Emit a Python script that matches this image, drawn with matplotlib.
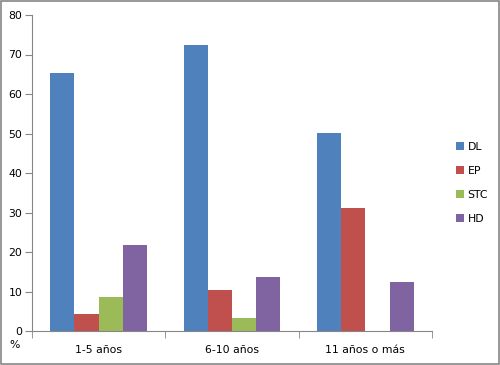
import matplotlib
matplotlib.use("Agg")
import matplotlib.pyplot as plt
import numpy as np

categories = ["1-5 años", "6-10 años", "11 años o más"]
series = ["DL", "EP", "STC", "HD"]
values = {
    "DL": [65.3, 72.4, 50.1],
    "EP": [4.3, 10.4, 31.1],
    "STC": [8.7, 3.3, 0.0],
    "HD": [21.8, 13.7, 12.4],
}
colors = ["#4F81BD", "#C0504D", "#9BBB59", "#8064A2"]
yticks = [0, 10, 20, 30, 40, 50, 60, 70, 80]

fig = plt.figure(figsize=(5, 3.65), dpi=100)
ax = fig.add_axes([32 / 500, 1 - 331 / 365, 400 / 500, 316 / 365])

axis_col = "#868686"
fs = 7.8
x = np.arange(len(categories))
bw = 1 / 5.5
for i, (name, c) in enumerate(zip(series, colors)):
    ax.bar(x + (i - 1.5) * bw, values[name], width=bw, color=c, label=name)

ax.set_xlim(-0.5, len(categories) - 0.5)
ax.set_ylim(0, 80)
ax.set_yticks(yticks)
ax.set_xticks(x)
ax.set_xticklabels(categories)
ax.set_xticks(np.arange(len(categories) + 1) - 0.5, minor=True)
ax.tick_params(axis="x", which="major", length=0, pad=10, labelsize=fs)
ax.tick_params(axis="x", which="minor", length=5, color=axis_col, direction="out")
ax.tick_params(axis="y", length=5, color=axis_col, labelsize=fs, pad=2)
for s in ["top", "right"]:
    ax.spines[s].set_visible(False)
for s in ["left", "bottom"]:
    ax.spines[s].set_color(axis_col)

fig.text(15 / 500, 1 - 345 / 365, "%", fontsize=fs, ha="center", va="center")

leg = ax.legend(loc="center left", bbox_to_anchor=(446 / 500, 1 - 183 / 365),
                bbox_transform=fig.transFigure, frameon=False, fontsize=fs,
                handlelength=0.75, handleheight=0.75, handletextpad=0.35,
                labelspacing=1.3)

fig.patches.append(plt.Rectangle((0.002, 0.003), 0.995, 0.994, transform=fig.transFigure,
                                 fill=False, edgecolor=axis_col, linewidth=1.2))

fig.savefig("out.png", dpi=100)
